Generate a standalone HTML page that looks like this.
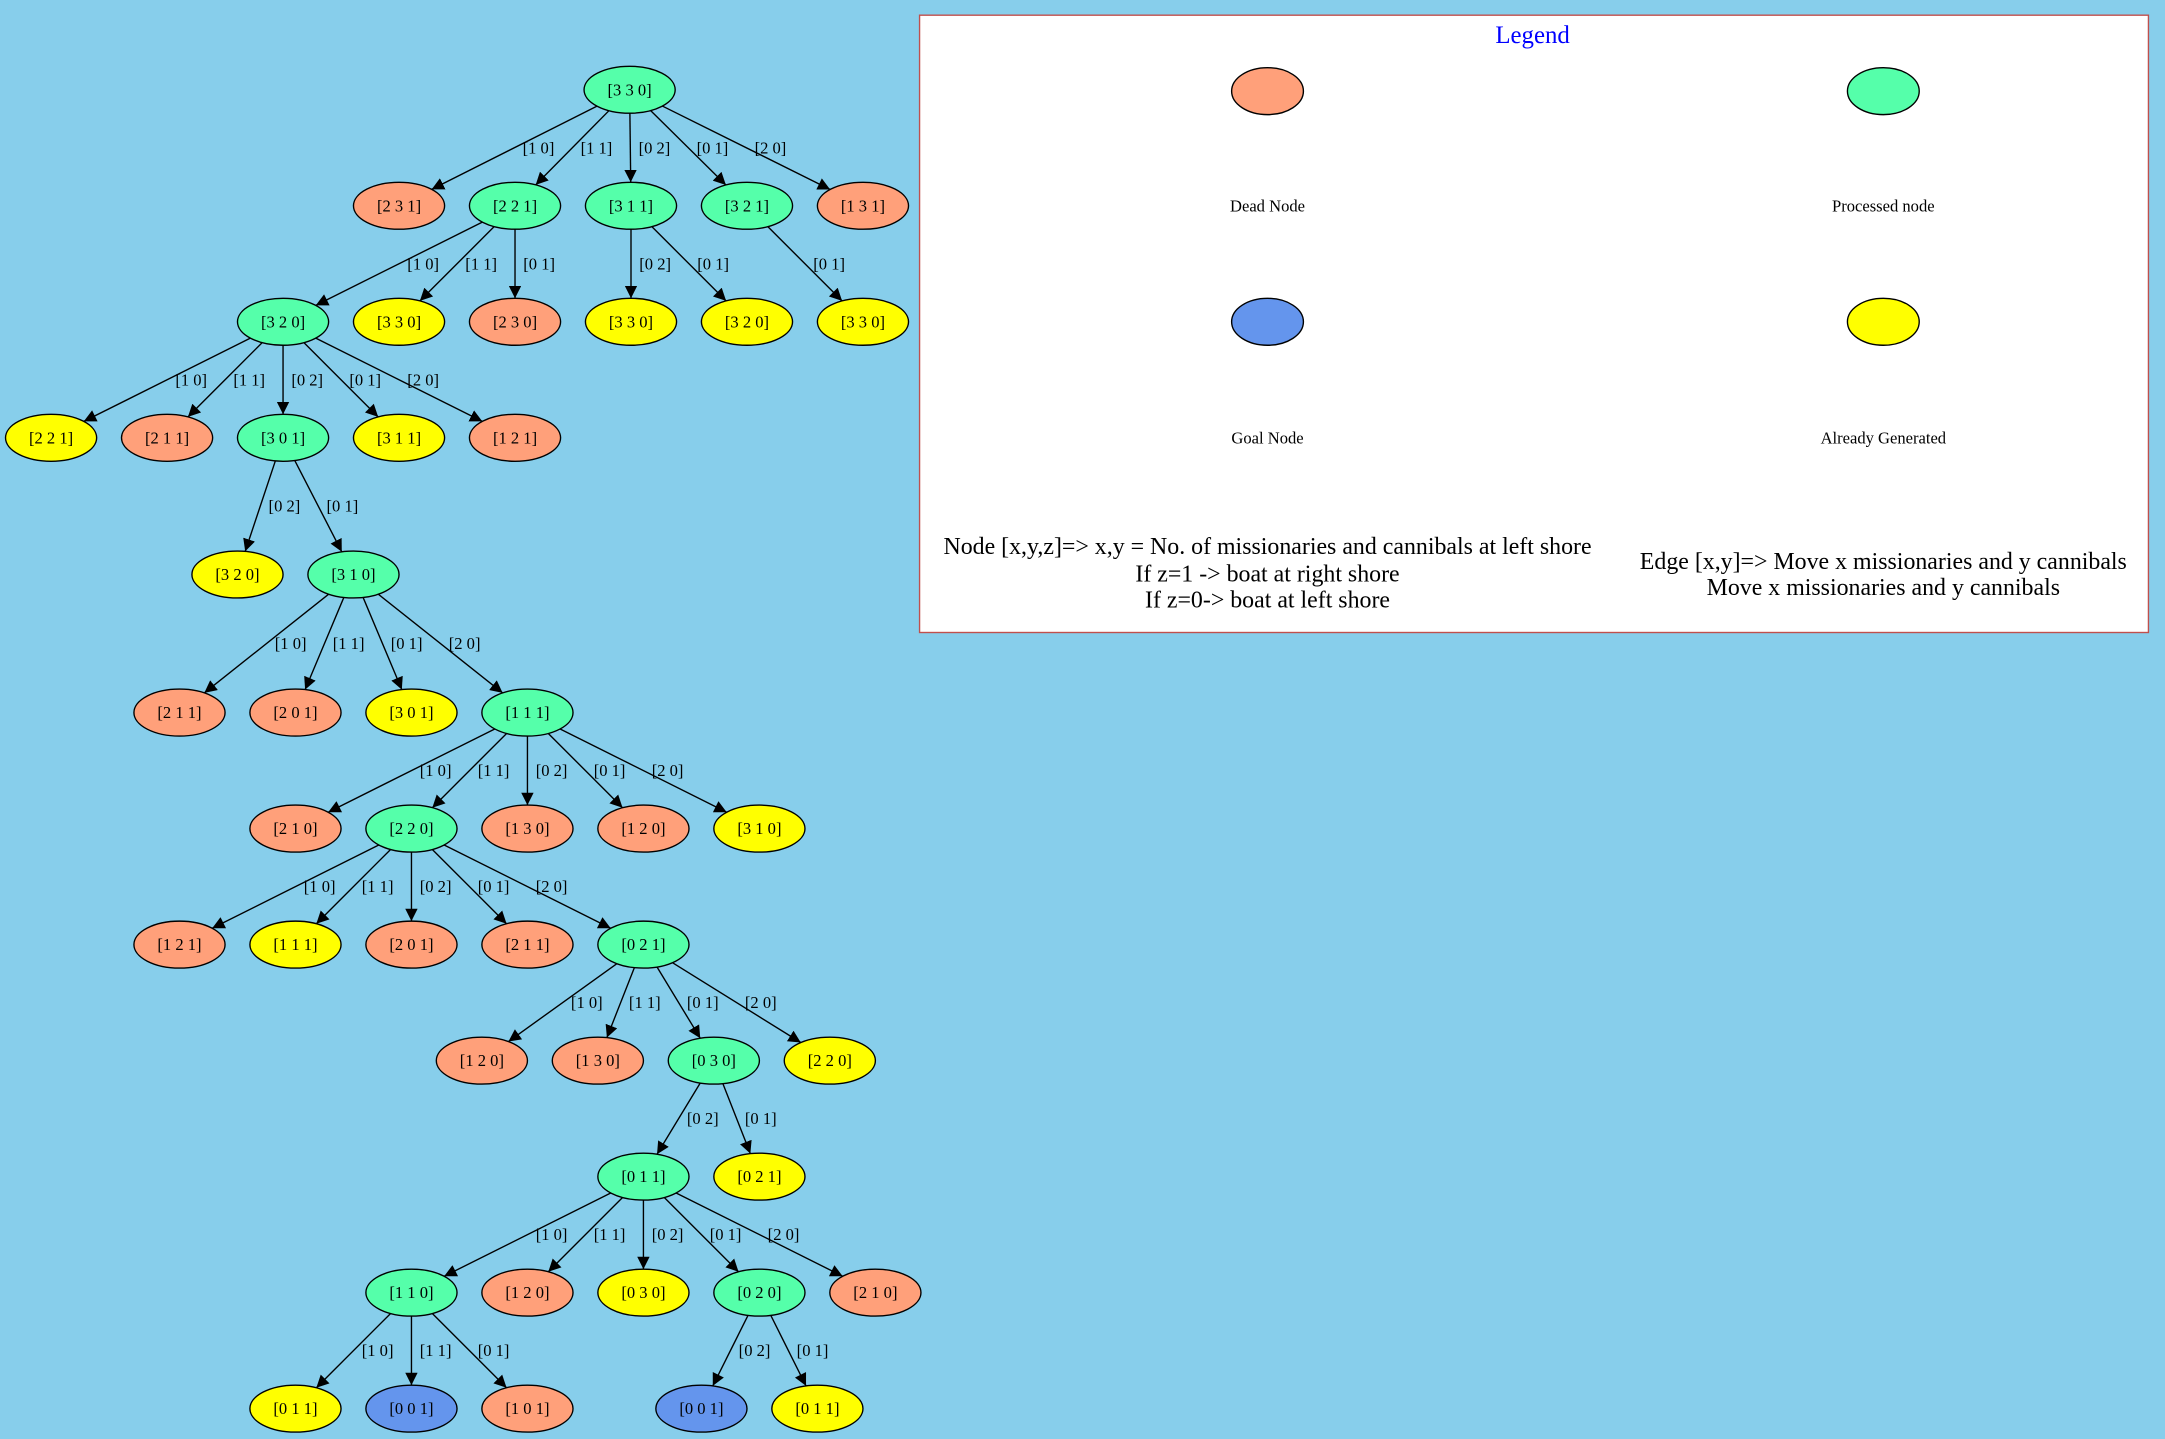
<!DOCTYPE html>
<html><head><meta charset="utf-8">
<style>
html,body{margin:0;padding:0;background:#87CEEB;}
svg{display:block;}
text{font-family:"Liberation Serif",serif;}
</style></head>
<body>
<svg id="s" width="2165" height="1439" viewBox="0 0 1568 1042" preserveAspectRatio="none" xmlns="http://www.w3.org/2000/svg">
<defs><marker id="a" viewBox="0 0 10 10" refX="10" refY="5" markerWidth="9" markerHeight="9" markerUnits="userSpaceOnUse" orient="auto"><path d="M0,0 L10,5 L0,10 z" fill="#000"/></marker></defs>
<rect x="0" y="0" width="1568" height="1042" fill="#87CEEB"/>
<rect x="666" y="11" width="890" height="447" fill="#fff" stroke="#c0504d" stroke-width="1"/>
<text x="1110" y="31" font-size="18" fill="#0000ff" text-anchor="middle">Legend</text>
<ellipse cx="918" cy="66" rx="26" ry="17" fill="#FFA07A" stroke="#000"/>
<ellipse cx="1364" cy="66" rx="26" ry="17" fill="#55FFAA" stroke="#000"/>
<ellipse cx="918" cy="233" rx="26" ry="17" fill="#6495ED" stroke="#000"/>
<ellipse cx="1364" cy="233" rx="26" ry="17" fill="#FFFF00" stroke="#000"/>
<text x="918" y="153" font-size="12" text-anchor="middle">Dead Node</text>
<text x="1364" y="153" font-size="12" text-anchor="middle">Processed node</text>
<text x="918" y="321" font-size="12" text-anchor="middle">Goal Node</text>
<text x="1364" y="321" font-size="12" text-anchor="middle">Already Generated</text>
<text x="918" y="401" font-size="17.3" text-anchor="middle">Node [x,y,z]=&gt; x,y = No. of missionaries and cannibals at left shore</text>
<text x="918" y="421" font-size="17.3" text-anchor="middle">If z=1 -&gt; boat at right shore</text>
<text x="918" y="440" font-size="17.3" text-anchor="middle">If z=0-&gt; boat at left shore</text>
<text x="1364" y="412" font-size="17.3" text-anchor="middle">Edge [x,y]=&gt; Move x missionaries and y cannibals</text>
<text x="1364" y="431" font-size="17.3" text-anchor="middle">Move x missionaries and y cannibals</text>
<g id="g"></g>
</svg>
<script>
var C={s:"#FFA07A",g:"#55FFAA",b:"#6495ED",y:"#FFFF00"};
var N={
A:[456,65,"3 3 0","g"],
B1:[289,149,"2 3 1","s"],B2:[373,149,"2 2 1","g"],B3:[457,149,"3 1 1","g"],B4:[541,149,"3 2 1","g"],B5:[625,149,"1 3 1","s"],
C1:[205,233,"3 2 0","g"],C2:[289,233,"3 3 0","y"],C3:[373,233,"2 3 0","s"],C4:[457,233,"3 3 0","y"],C5:[541,233,"3 2 0","y"],C6:[625,233,"3 3 0","y"],
D1:[37,317,"2 2 1","y"],D2:[121,317,"2 1 1","s"],D3:[205,317,"3 0 1","g"],D4:[289,317,"3 1 1","y"],D5:[373,317,"1 2 1","s"],
E1:[172,416,"3 2 0","y"],E2:[256,416,"3 1 0","g"],
F1:[130,516,"2 1 1","s"],F2:[214,516,"2 0 1","s"],F3:[298,516,"3 0 1","y"],F4:[382,516,"1 1 1","g"],
G1:[214,600,"2 1 0","s"],G2:[298,600,"2 2 0","g"],G3:[382,600,"1 3 0","s"],G4:[466,600,"1 2 0","s"],G5:[550,600,"3 1 0","y"],
H1:[130,684,"1 2 1","s"],H2:[214,684,"1 1 1","y"],H3:[298,684,"2 0 1","s"],H4:[382,684,"2 1 1","s"],H5:[466,684,"0 2 1","g"],
I1:[349,768,"1 2 0","s"],I2:[433,768,"1 3 0","s"],I3:[517,768,"0 3 0","g"],I4:[601,768,"2 2 0","y"],
J1:[466,852,"0 1 1","g"],J2:[550,852,"0 2 1","y"],
K1:[298,936,"1 1 0","g"],K2:[382,936,"1 2 0","s"],K3:[466,936,"0 3 0","y"],K4:[550,936,"0 2 0","g"],K5:[634,936,"2 1 0","s"],
L1:[214,1020,"0 1 1","y"],L2:[298,1020,"0 0 1","b"],L3:[382,1020,"1 0 1","s"],L4:[508,1020,"0 0 1","b"],L5:[592,1020,"0 1 1","y"]};
var E=[["A","B1","1 0"],["A","B2","1 1"],["A","B3","0 2"],["A","B4","0 1"],["A","B5","2 0"],
["B2","C1","1 0"],["B2","C2","1 1"],["B2","C3","0 1"],["B3","C4","0 2"],["B3","C5","0 1"],["B4","C6","0 1"],
["C1","D1","1 0"],["C1","D2","1 1"],["C1","D3","0 2"],["C1","D4","0 1"],["C1","D5","2 0"],
["D3","E1","0 2"],["D3","E2","0 1"],
["E2","F1","1 0"],["E2","F2","1 1"],["E2","F3","0 1"],["E2","F4","2 0"],
["F4","G1","1 0"],["F4","G2","1 1"],["F4","G3","0 2"],["F4","G4","0 1"],["F4","G5","2 0"],
["G2","H1","1 0"],["G2","H2","1 1"],["G2","H3","0 2"],["G2","H4","0 1"],["G2","H5","2 0"],
["H5","I1","1 0"],["H5","I2","1 1"],["H5","I3","0 1"],["H5","I4","2 0"],
["I3","J1","0 2"],["I3","J2","0 1"],
["J1","K1","1 0"],["J1","K2","1 1"],["J1","K3","0 2"],["J1","K4","0 1"],["J1","K5","2 0"],
["K1","L1","1 0"],["K1","L2","1 1"],["K1","L3","0 1"],["K4","L4","0 2"],["K4","L5","0 1"]];
var RX=33,RY=17,h="";
function bp(cx,cy,dx,dy){var t=1/Math.sqrt(dx*dx/(RX*RX)+dy*dy/(RY*RY));return [cx+dx*t,cy+dy*t];}
E.forEach(function(e){var p=N[e[0]],c=N[e[1]];var dx=c[0]-p[0],dy=c[1]-p[1];
var s=bp(p[0],p[1],dx,dy),t=bp(c[0],c[1],-dx,-dy);
h+='<line x1="'+s[0]+'" y1="'+s[1]+'" x2="'+t[0]+'" y2="'+t[1]+'" stroke="#000" stroke-width="1" marker-end="url(#a)"/>';
var my=(p[1]+c[1])/2,mx=p[0]+dx*0.5;
h+='<text x="'+(mx+6)+'" y="'+(my+4)+'" font-size="12">['+e[2]+']</text>';});
for(var k in N){var n=N[k];h+='<ellipse cx="'+n[0]+'" cy="'+n[1]+'" rx="'+RX+'" ry="'+RY+'" fill="'+C[n[3]]+'" stroke="#000"/><text x="'+n[0]+'" y="'+(n[1]+4)+'" font-size="12" text-anchor="middle">['+n[2]+']</text>';}
document.getElementById("g").innerHTML=h;
</script>
</body></html>
